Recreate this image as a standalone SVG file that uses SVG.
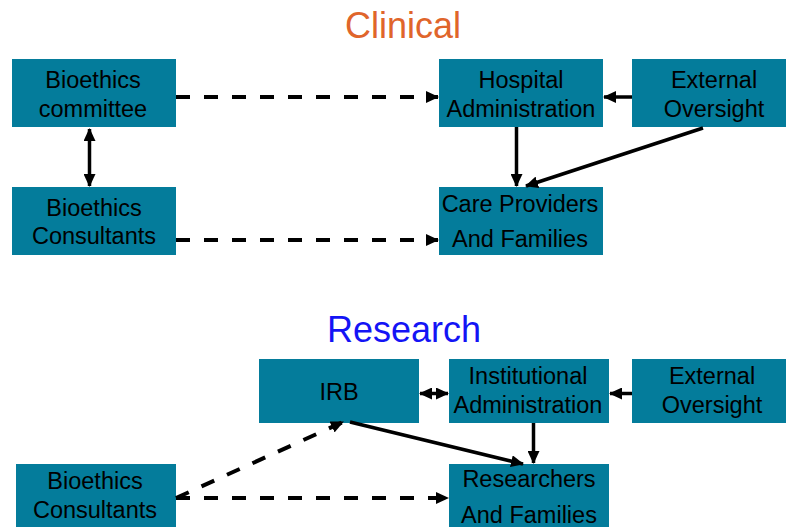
<svg xmlns="http://www.w3.org/2000/svg" width="786" height="527" viewBox="0 0 786 527">
  <style>
    .box { fill: #047C9B; }
    .lbl { font-family: "Liberation Sans", Arial, sans-serif; font-size: 23.5px; fill: #000; text-anchor: middle; }
    .title { font-family: "Liberation Sans", Arial, sans-serif; font-size: 36px; text-anchor: middle; }
    .solid { stroke: #000; stroke-width: 3.5; fill: none; }
    .dash { stroke: #000; stroke-width: 4; fill: none; stroke-dasharray: 14 14; }
  </style>
  <defs>
    <marker id="head" viewBox="0 0 13 12" refX="12" refY="6" markerWidth="13" markerHeight="12" markerUnits="userSpaceOnUse" orient="auto-start-reverse">
      <path d="M0,0 L13,6 L0,12 z" fill="#000"/>
    </marker>
  </defs>

  <rect width="786" height="527" fill="#fff"/>

  <!-- section titles -->
  <text class="title" x="403" y="38" fill="#E0652B">Clinical</text>
  <text class="title" x="404" y="342" fill="#1414F5">Research</text>

  <!-- clinical nodes -->
  <g id="bioethics-committee">
    <rect class="box" x="12" y="59" width="164" height="68"/>
    <text class="lbl" x="93" y="88">Bioethics</text>
    <text class="lbl" x="93" y="117">committee</text>
  </g>
  <g id="bioethics-consultants-clinical">
    <rect class="box" x="12" y="187" width="164" height="68"/>
    <text class="lbl" x="94" y="216">Bioethics</text>
    <text class="lbl" x="94" y="244">Consultants</text>
  </g>
  <g id="hospital-administration">
    <rect class="box" x="439" y="59" width="164" height="68"/>
    <text class="lbl" x="521" y="88">Hospital</text>
    <text class="lbl" x="521" y="117">Administration</text>
  </g>
  <g id="external-oversight-clinical">
    <rect class="box" x="632" y="59" width="164" height="68"/>
    <text class="lbl" x="714" y="88">External</text>
    <text class="lbl" x="714" y="117">Oversight</text>
  </g>
  <g id="care-providers">
    <rect class="box" x="439" y="187" width="164" height="68"/>
    <text class="lbl" x="520" y="212">Care Providers</text>
    <text class="lbl" x="520" y="247">And Families</text>
  </g>

  <!-- research nodes -->
  <g id="irb">
    <rect class="box" x="259" y="359" width="160" height="64"/>
    <text class="lbl" x="339" y="400">IRB</text>
  </g>
  <g id="institutional-administration">
    <rect class="box" x="449" y="359" width="160" height="64"/>
    <text class="lbl" x="528" y="384">Institutional</text>
    <text class="lbl" x="528" y="413">Administration</text>
  </g>
  <g id="external-oversight-research">
    <rect class="box" x="632" y="359" width="164" height="64"/>
    <text class="lbl" x="712" y="384">External</text>
    <text class="lbl" x="712" y="413">Oversight</text>
  </g>
  <g id="bioethics-consultants-research">
    <rect class="box" x="16" y="464" width="160" height="70"/>
    <text class="lbl" x="95" y="489">Bioethics</text>
    <text class="lbl" x="95" y="518">Consultants</text>
  </g>
  <g id="researchers">
    <rect class="box" x="449" y="464" width="160" height="70"/>
    <text class="lbl" x="529" y="487">Researchers</text>
    <text class="lbl" x="529" y="523">And Families</text>
  </g>

  <!-- connectors -->
  <g id="connectors">
    <line class="dash" x1="176" y1="97" x2="438" y2="97" marker-end="url(#head)"/>
    <line class="dash" x1="176" y1="240" x2="438" y2="240" marker-end="url(#head)"/>
    <line class="solid" x1="89.5" y1="129" x2="89.5" y2="186" marker-start="url(#head)" marker-end="url(#head)"/>
    <line class="solid" x1="632" y1="97" x2="604" y2="97" marker-end="url(#head)"/>
    <line class="solid" x1="516.5" y1="127" x2="516.5" y2="186" marker-end="url(#head)"/>
    <line class="solid" x1="703" y1="128" x2="526" y2="186" marker-end="url(#head)"/>

    <line class="solid" x1="420" y1="393.5" x2="448" y2="393.5" marker-start="url(#head)" marker-end="url(#head)"/>
    <line class="solid" x1="632" y1="393.5" x2="610" y2="393.5" marker-end="url(#head)"/>
    <line class="solid" x1="533.5" y1="423" x2="533.5" y2="463" marker-end="url(#head)"/>
    <line class="solid" x1="350" y1="422" x2="523" y2="464" marker-end="url(#head)"/>
    <line class="dash" x1="176" y1="498" x2="343" y2="422" marker-end="url(#head)"/>
    <line class="dash" x1="176" y1="498" x2="448" y2="498" marker-end="url(#head)"/>
  </g>
</svg>
